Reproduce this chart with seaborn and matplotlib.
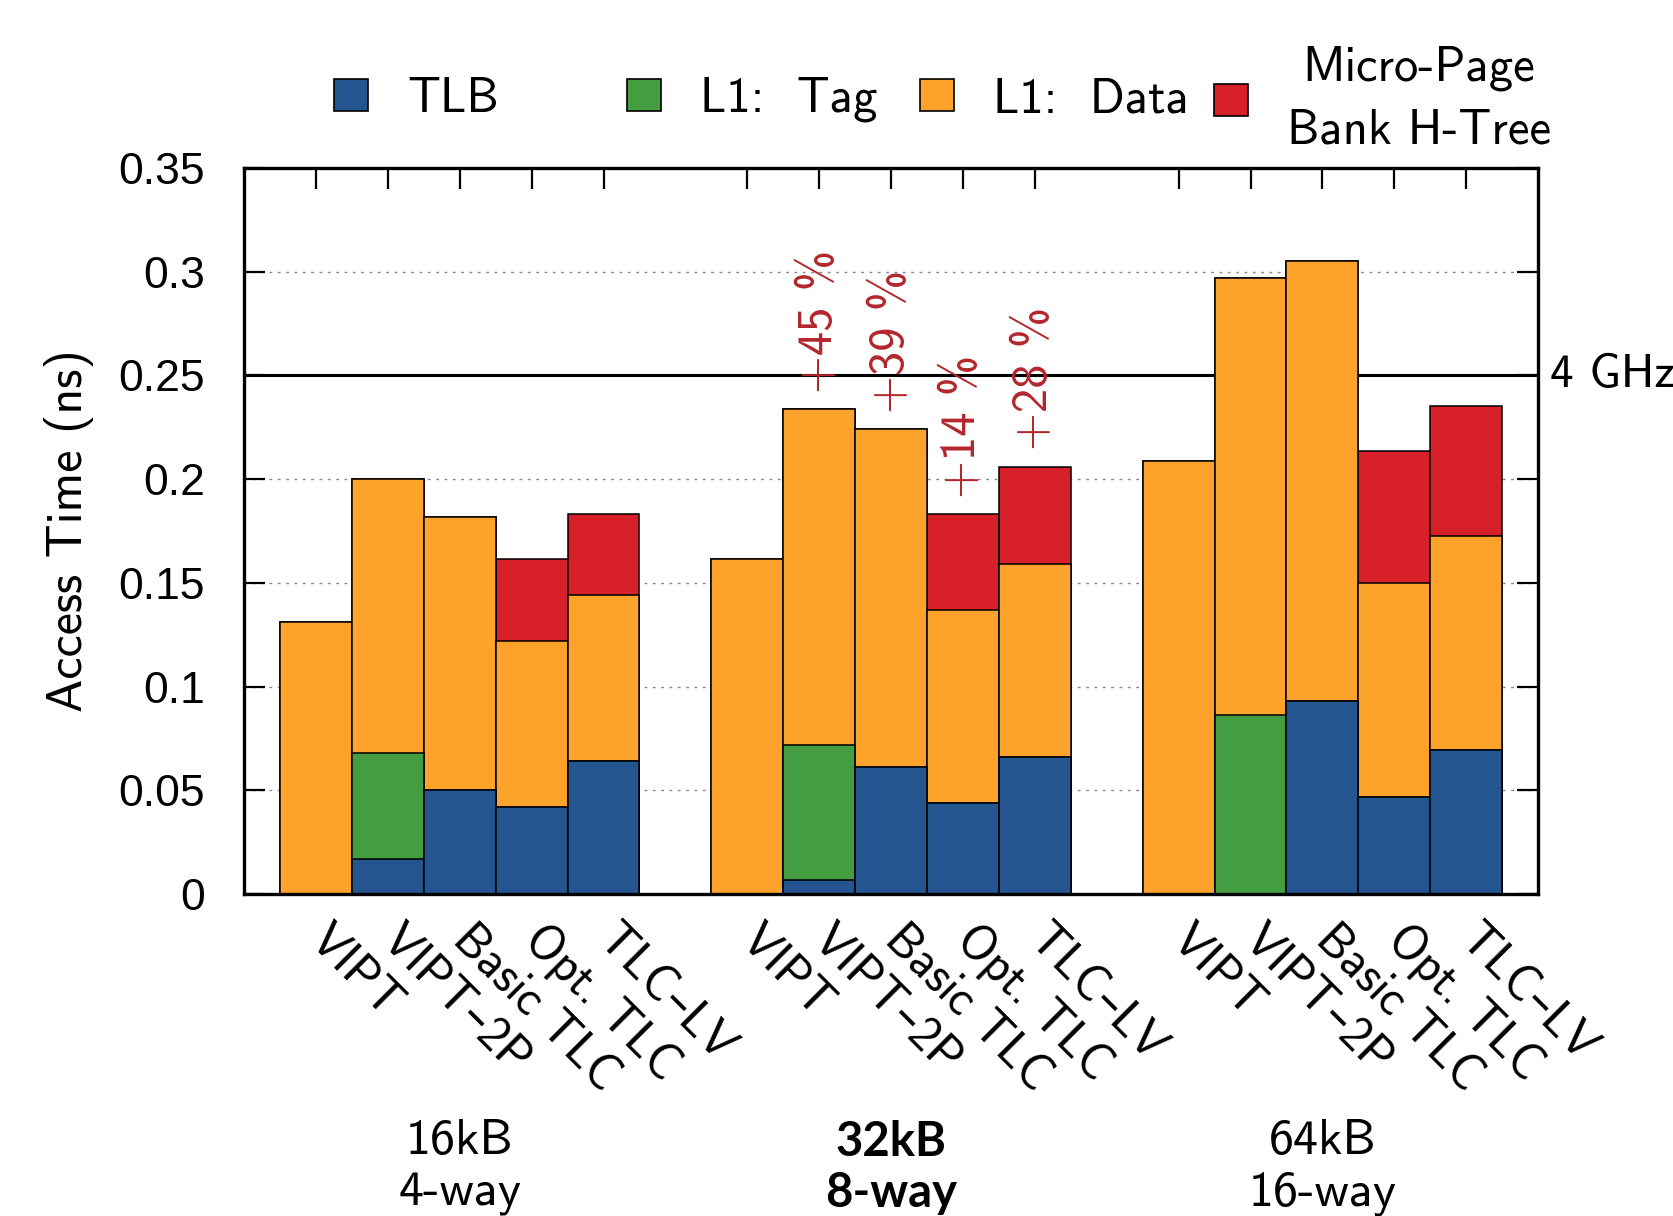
import numpy as np
import pandas as pd
import matplotlib
matplotlib.use('Agg')
import matplotlib.pyplot as plt
import matplotlib.transforms as mtransforms
from matplotlib.patches import Patch
import seaborn as sns

# data (ns), segment heights per bar, groups of 5 configs
configs = ['VIPT', 'VIPT–2P', 'Basic TLC', 'Opt. TLC', 'TLC–LV']
groups = ['16kB\n4-way', '32kB\n8-way', '64kB\n16-way']
tlb = [0.0, 0.017, 0.050, 0.042, 0.064,
       0.0, 0.0067, 0.061, 0.044, 0.066,
       0.0, 0.0, 0.093, 0.047, 0.0695]
tag = [0.0, 0.051, 0.0, 0.0, 0.0,
       0.0, 0.065, 0.0, 0.0, 0.0,
       0.0, 0.0865, 0.0, 0.0, 0.0]
l1data = [0.131, 0.132, 0.132, 0.080, 0.080,
          0.1616, 0.162, 0.163, 0.093, 0.093,
          0.209, 0.2105, 0.212, 0.103, 0.103]
htree = [0.0, 0.0, 0.0, 0.0396, 0.039,
         0.0, 0.0, 0.0, 0.046, 0.047,
         0.0, 0.0, 0.0, 0.0636, 0.063]
pct_labels = ['+45 %', '+39 %', '+14 %', '+28 %']
ytick_vals = [0, 0.05, 0.1, 0.15, 0.2, 0.25, 0.3, 0.35]
ytick_labels = ['0', '0.05', '0.1', '0.15', '0.2', '0.25', '0.3', '0.35']
legend_labels = ['TLB', 'L1:  Tag', 'L1:  Data', 'Micro-Page\nBank H-Tree']

c_tlb = '#245590'
c_tag = '#459d42'
c_data = '#fda22b'
c_tree = '#d7202a'
c_pct = '#b3262c'

sns.set_style('ticks')
plt.rcParams['font.family'] = ['cmss10', 'DejaVu Sans']
plt.rcParams['axes.unicode_minus'] = False
for k in ['text.color', 'axes.labelcolor', 'xtick.color', 'ytick.color', 'axes.edgecolor']:
    plt.rcParams[k] = 'black'
FS = 36

pos = [6 * g + i for g in range(3) for i in range(5)]
df = pd.DataFrame({'pos': pos})
df['tlb'] = tlb
df['tag'] = df['tlb'] + np.array(tag)
df['data'] = df['tag'] + np.array(l1data)
df['total'] = df['data'] + np.array(htree)

fig, ax = plt.subplots(figsize=(16.74, 12.16), dpi=100)
fig.subplots_adjust(left=0.1458, right=0.9188, top=0.8618, bottom=0.2648)

# stacked bars: draw cumulative tops, tallest first
for col, colr in [('total', c_tree), ('data', c_data), ('tag', c_tag), ('tlb', c_tlb)]:
    sns.barplot(data=df, x='pos', y=col, native_scale=True, width=1,
                color=colr, saturation=1, edgecolor='black', linewidth=1.1,
                errorbar=None, ax=ax)

ax.axhline(0.25, color='black', lw=2.2, zorder=0.8)
ax.yaxis.grid(True, linestyle=(0, (2, 4)), color='#888888', linewidth=1.0)

ax.set_xlim(-1, 17)
ax.set_ylim(0, 0.35)
ax.set_xticks(pos)
ax.set_xticklabels(configs * 3, rotation=-45, ha='left', va='center',
                   rotation_mode='anchor', fontsize=35)
ax.set_yticks(ytick_vals)
ax.set_yticklabels(ytick_labels, fontsize=32, family=['Liberation Sans'])
ax.tick_params(axis='both', direction='in', length=15, width=1.6, top=True, right=True)
ax.tick_params(axis='x', pad=28)
ax.tick_params(axis='y', pad=28)
ax.set_xlabel('')
ax.set_ylabel('Access Time (ns)', fontsize=FS, labelpad=18)
for s in ax.spines.values():
    s.set_linewidth(2.4)

# relative increase over 32kB VIPT
tot = df['total'].values
for j, lab in enumerate(pct_labels):
    k = 6 + j
    ax.text(pos[k], tot[k] + 0.008, lab, rotation=90, ha='center', va='bottom',
            color=c_pct, fontsize=35)

trans_r = mtransforms.blended_transform_factory(ax.transAxes, ax.transData)
ax.text(1.009, 0.25, '4 GHz', transform=trans_r, ha='left', va='center', fontsize=34)

trans_g = mtransforms.blended_transform_factory(ax.transData, ax.transAxes)
for g, lab in enumerate(groups):
    if g == 1:
        ax.text(6 * g + 2, -0.377, lab, transform=trans_g, ha='center', va='center',
                fontsize=34, fontweight='bold', family=['Lato'], linespacing=1.2)
    else:
        ax.text(6 * g + 2, -0.377, lab, transform=trans_g, ha='center', va='center',
                fontsize=FS, linespacing=1.2)

# legend: fixed-width columns like the original
leg_x = [0.1995, 0.3745, 0.5496, 0.7252]
for x, lab, colr in zip(leg_x, legend_labels, [c_tlb, c_tag, c_data, c_tree]):
    leg = fig.legend(handles=[Patch(facecolor=colr, edgecolor='black', linewidth=1.2)],
                     labels=[lab], loc='center left', bbox_to_anchor=(x, 0.918),
                     frameon=False, fontsize=35, borderpad=0, borderaxespad=0,
                     handlelength=0.7, handleheight=0.65, handletextpad=0.8)
    for t in leg.get_texts():
        t.set_multialignment('center')
        t.set_linespacing(1.5)

fig.savefig('out.png', dpi=100)
